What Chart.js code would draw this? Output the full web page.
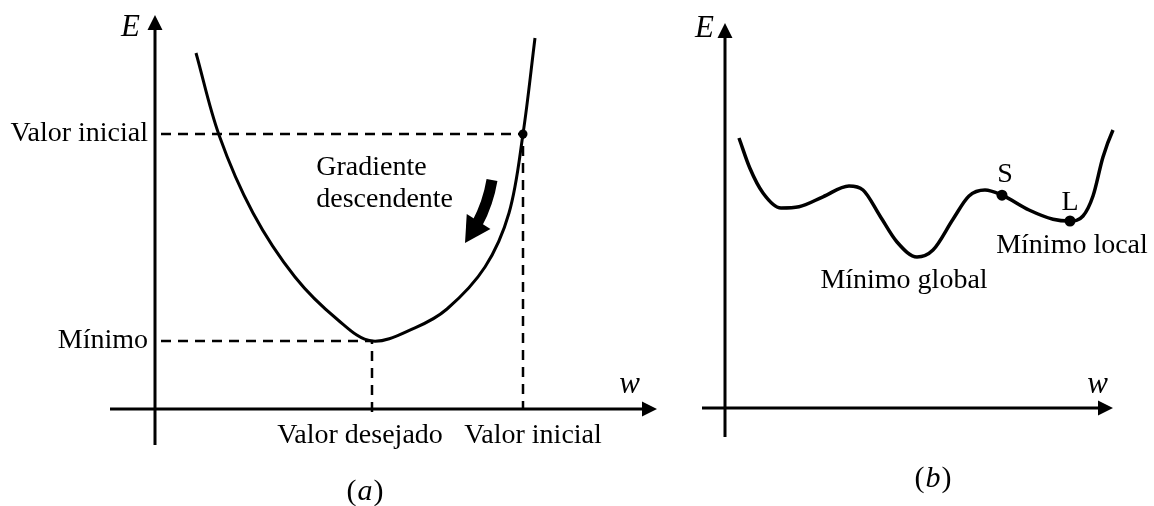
<!DOCTYPE html>
<html>
<head>
<meta charset="utf-8">
<script src="https://cdn.jsdelivr.net/npm/chart.js@4.4.1/dist/chart.umd.min.js"></script>
<style>
    html, body { margin: 0; padding: 0; background: #fff; }
    #wrap { position: relative; width: 1154px; height: 506px; overflow: hidden; }
    #panelA { position: absolute; left: 0; top: 0; }
    #panelB { position: absolute; left: 680px; top: 0; }
</style>
</head>
<body>
<div id="wrap">
    <canvas id="panelA" width="680" height="506"></canvas>
    <canvas id="panelB" width="474" height="506"></canvas>
</div>
<script>
// Panel (a): curva convexa del gradiente descendente
const curveA_w = [1.025, 1.6, 2.45, 3.5, 4.575, 5.425, 6.5, 7.3, 8.25, 8.85, 9.2, 9.5];
const curveA_E = [8.9, 6.85, 4.9, 3.3, 2.225, 1.7, 2.03, 2.5, 3.55, 4.9, 6.875, 9.275];
const wInicial = 9.2;
const eInicial = 6.875;
const wDesejado = 5.425;
const eMinimo = 1.7;
const xTicksA = [wDesejado, wInicial];
const xTickLabelsA = ['Valor desejado', 'Valor inicial'];
const yTicksA = [eInicial, eMinimo];
const yTickLabelsA = ['Valor inicial', 'Mínimo'];
// flecha: inicio, control, base de la punta, punta
const arrowA_w = [8.425, 8.33, 8.05, 7.75];
const arrowA_E = [5.725, 5.15, 4.625, 4.15];

// Panel (b): superficie con mínimos locales
const curveB_w = [0.35, 0.62, 0.95, 1.4, 1.85, 2.45, 3.1, 3.45, 3.875, 4.3, 4.8, 5.2, 5.7, 6.1, 6.5, 6.925, 7.6, 8.2, 8.625, 8.95, 9.2, 9.45, 9.7, 9.925];
const curveB_E = [6.75, 6.0, 5.375, 5.0, 5.03, 5.28, 5.55, 5.45, 4.8, 4.15, 3.775, 3.95, 4.72, 5.3, 5.45, 5.32, 4.95, 4.72, 4.675, 4.8, 5.3, 6.275, 6.95, 7.35];
const pointLabelsB = ['S', 'L'];
const pointsB_w = [6.925, 8.625];
const pointsB_E = [5.32, 4.675];
const globalMinB = { w: 4.8, E: 3.775 };

const FONT = '"Liberation Serif", "Times New Roman", serif';
const INK = '#000';
const FS = 28;

function toXY(ws, es) {
    return ws.map((w, i) => ({ x: w, y: es[i] }));
}

function px(chart, w, e) {
    return [chart.scales.x.getPixelForValue(w), chart.scales.y.getPixelForValue(e)];
}

function text(ctx, str, x, y, align, size, italic) {
    ctx.font = (italic ? 'italic ' : '') + size + 'px ' + FONT;
    ctx.textAlign = align || 'left';
    ctx.textBaseline = 'alphabetic';
    ctx.fillStyle = INK;
    ctx.fillText(str, x, y);
}

function caption(ctx, letter, cx, y) {
    ctx.font = '30px ' + FONT;
    const wp = ctx.measureText('(').width;
    const wq = ctx.measureText(')').width;
    ctx.font = 'italic 30px ' + FONT;
    const wl = ctx.measureText(letter).width;
    let x = cx - (wp + wl + wq + 2) / 2;
    text(ctx, '(', x, y, 'left', 30, false);
    text(ctx, letter, x + wp + 1, y, 'left', 30, true);
    text(ctx, ')', x + wp + wl + 2, y, 'left', 30, false);
}

// Ejes con flecha, cruzando en el origen
const axesPlugin = {
    id: 'arrowAxes',
    beforeDatasetsDraw(chart) {
        const { ctx, scales: { x, y } } = chart;
        const x0 = x.getPixelForValue(0), y0 = y.getPixelForValue(0);
        const xl = x.getPixelForValue(x.min), xr = x.getPixelForValue(x.max);
        const yb = y.getPixelForValue(y.min), yt = y.getPixelForValue(y.max);
        ctx.save();
        ctx.strokeStyle = INK;
        ctx.fillStyle = INK;
        ctx.lineWidth = 3;
        ctx.beginPath();
        ctx.moveTo(xl, y0); ctx.lineTo(xr - 10, y0);
        ctx.moveTo(x0, yb); ctx.lineTo(x0, yt + 10);
        ctx.stroke();
        ctx.beginPath();
        ctx.moveTo(xr, y0); ctx.lineTo(xr - 15, y0 - 7.5); ctx.lineTo(xr - 15, y0 + 7.5); ctx.closePath();
        ctx.moveTo(x0, yt); ctx.lineTo(x0 - 7.5, yt + 15); ctx.lineTo(x0 + 7.5, yt + 15); ctx.closePath();
        ctx.fill();
        ctx.restore();
    }
};

function baseOptions(scaleX, scaleY, padding) {
    return {
        responsive: false,
        animation: false,
        events: [],
        layout: { padding: padding },
        plugins: { legend: { display: false }, tooltip: { enabled: false } },
        scales: {
            x: { type: 'linear', min: scaleX[0], max: scaleX[1], display: false },
            y: { type: 'linear', min: scaleY[0], max: scaleY[1], display: false }
        }
    };
}

// Gráfico (a)
const labelsA = {
    id: 'labelsA',
    afterDatasetsDraw(chart) {
        const { ctx, scales: { x, y } } = chart;
        const x0 = x.getPixelForValue(0), y0 = y.getPixelForValue(0);
        ctx.save();
        // etiquetas del eje y
        yTicksA.forEach((v, i) => {
            text(ctx, yTickLabelsA[i], x0 - 7, y.getPixelForValue(v) + 7, 'right', FS, false);
        });
        // etiquetas del eje x
        const dxs = [-12, 10];
        xTicksA.forEach((v, i) => {
            text(ctx, xTickLabelsA[i], x.getPixelForValue(v) + dxs[i], y0 + 34, 'center', FS, false);
        });
        text(ctx, 'E', x0 - 15, y.getPixelForValue(y.max) + 21, 'right', 31, true);
        text(ctx, 'w', x.getPixelForValue(x.max) - 17, y0 - 16, 'right', 31, true);

        // flecha del gradiente
        const p = arrowA_w.map((w, i) => px(chart, w, arrowA_E[i]));
        ctx.strokeStyle = INK;
        ctx.fillStyle = INK;
        ctx.lineWidth = 11;
        ctx.lineCap = 'butt';
        ctx.beginPath();
        ctx.moveTo(p[0][0], p[0][1]);
        ctx.quadraticCurveTo(p[1][0], p[1][1], p[2][0], p[2][1]);
        ctx.stroke();
        const dx = p[3][0] - p[2][0], dy = p[3][1] - p[2][1];
        const len = Math.hypot(dx, dy);
        const nx = -dy / len, ny = dx / len;
        const back = 3 / len;
        ctx.beginPath();
        ctx.moveTo(p[3][0], p[3][1]);
        ctx.lineTo(p[2][0] - dx * back + nx * 14, p[2][1] - dy * back + ny * 14);
        ctx.lineTo(p[2][0] - dx * back - nx * 14, p[2][1] - dy * back - ny * 14);
        ctx.closePath();
        ctx.fill();

        const tx = x.getPixelForValue(4.03);
        text(ctx, 'Gradiente', tx, y.getPixelForValue(5.85), 'left', FS, false);
        text(ctx, 'descendente', tx, y.getPixelForValue(5.05), 'left', FS, false);

        caption(ctx, 'a', x.getPixelForValue(5.25), 500);
        ctx.restore();
    }
};

new Chart(document.getElementById('panelA'), {
    type: 'scatter',
    data: {
        datasets: [
            {
                data: toXY(curveA_w, curveA_E),
                showLine: true,
                borderColor: INK,
                borderWidth: 3,
                pointRadius: 0,
                tension: 0.35
            },
            {
                data: [{ x: 0.15, y: eInicial }, { x: wInicial, y: eInicial }, { x: wInicial, y: 0 }],
                showLine: true,
                borderColor: INK,
                borderWidth: 2.5,
                borderDash: [10, 7],
                pointRadius: 0
            },
            {
                data: [{ x: 0.15, y: eMinimo }, { x: wDesejado, y: eMinimo }, { x: wDesejado, y: -0.15 }],
                showLine: true,
                borderColor: INK,
                borderWidth: 2.5,
                borderDash: [10, 7],
                pointRadius: 0
            },
            {
                data: [{ x: wInicial, y: eInicial }],
                pointRadius: 4.5,
                backgroundColor: INK,
                borderWidth: 0
            }
        ]
    },
    options: baseOptions([-1.125, 12.55], [-0.9, 9.85], { left: 110, right: 23, top: 15, bottom: 61 }),
    plugins: [axesPlugin, labelsA]
});

// Gráfico (b)
const labelsB = {
    id: 'labelsB',
    afterDatasetsDraw(chart) {
        const { ctx, scales: { x, y } } = chart;
        const x0 = x.getPixelForValue(0), y0 = y.getPixelForValue(0);
        ctx.save();
        text(ctx, 'E', x0 - 11, y.getPixelForValue(y.max) + 14, 'right', 31, true);
        text(ctx, 'w', x.getPixelForValue(x.max) - 5, y0 - 15, 'right', 31, true);

        const [sx, sy] = px(chart, pointsB_w[0], pointsB_E[0]);
        const [lx, ly] = px(chart, pointsB_w[1], pointsB_E[1]);
        text(ctx, pointLabelsB[0], sx + 3, sy - 13, 'center', FS, false);
        text(ctx, pointLabelsB[1], lx, ly - 11, 'center', FS, false);
        text(ctx, 'Mínimo local', lx + 2, ly + 32, 'center', FS, false);

        const [gx, gy] = px(chart, globalMinB.w, globalMinB.E);
        text(ctx, 'Mínimo global', gx - 13, gy + 31, 'center', FS, false);

        caption(ctx, 'b', x.getPixelForValue(5.2), 487);
        ctx.restore();
    }
};

new Chart(document.getElementById('panelB'), {
    type: 'scatter',
    data: {
        datasets: [
            {
                data: toXY(curveB_w, curveB_E),
                showLine: true,
                borderColor: INK,
                borderWidth: 3.5,
                pointRadius: 0,
                cubicInterpolationMode: 'monotone',
                clip: false
            },
            {
                data: toXY(pointsB_w, pointsB_E),
                pointRadius: 5.5,
                backgroundColor: INK,
                borderWidth: 0
            }
        ]
    },
    options: baseOptions([-0.575, 9.7], [-0.725, 9.625], { left: 22, right: 41, top: 23, bottom: 69 }),
    plugins: [axesPlugin, labelsB]
});
</script>
</body>
</html>
